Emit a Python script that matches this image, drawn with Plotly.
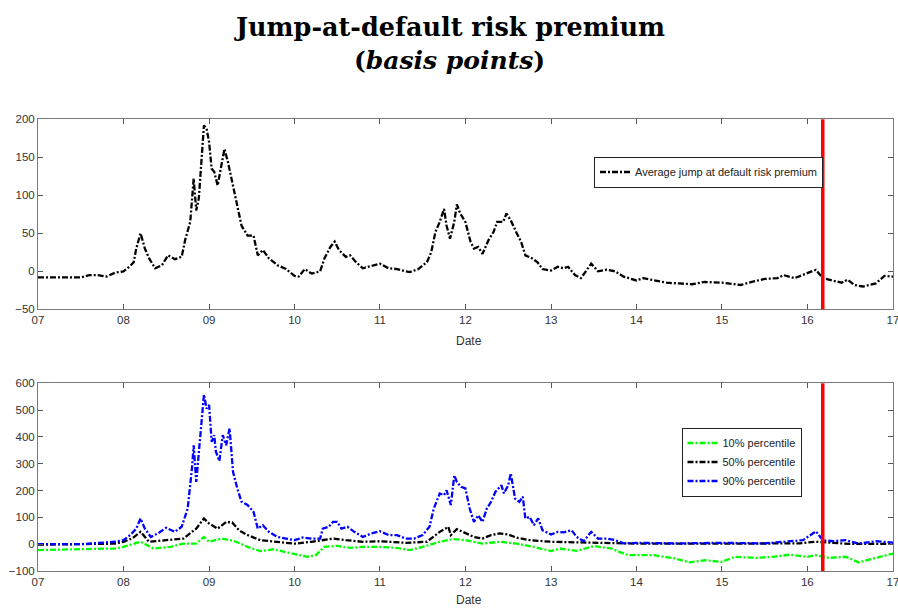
import pandas as pd
import plotly.graph_objects as go

# ---------------- data (decimal years, basis points) ----------------
avg_years = [
    2007.0, 2007.25, 2007.5, 2007.6, 2007.7, 2007.8, 2007.9,
    2008.0, 2008.08, 2008.12, 2008.15, 2008.2, 2008.25, 2008.3, 2008.37, 2008.45, 2008.52,
    2008.6, 2008.68, 2008.72, 2008.78, 2008.82, 2008.85, 2008.88, 2008.92, 2008.94, 2008.97,
    2009.0, 2009.03, 2009.06, 2009.1, 2009.14, 2009.18, 2009.22, 2009.27, 2009.32, 2009.38,
    2009.45, 2009.52, 2009.57, 2009.63, 2009.7, 2009.8, 2009.9,
    2010.0, 2010.05, 2010.12, 2010.2, 2010.3, 2010.35, 2010.42, 2010.47, 2010.52, 2010.6,
    2010.65, 2010.72, 2010.8, 2010.9,
    2011.0, 2011.1, 2011.2, 2011.3, 2011.35, 2011.45, 2011.55, 2011.6, 2011.65, 2011.7,
    2011.75, 2011.78, 2011.82, 2011.87, 2011.9, 2011.94,
    2012.0, 2012.06, 2012.1, 2012.15, 2012.2, 2012.27, 2012.33, 2012.37, 2012.44, 2012.48,
    2012.53, 2012.6, 2012.65, 2012.7, 2012.78, 2012.84, 2012.9,
    2013.0, 2013.08, 2013.15, 2013.2, 2013.28, 2013.35, 2013.47, 2013.55, 2013.65, 2013.75, 2013.85,
    2014.0, 2014.08, 2014.2, 2014.35, 2014.5, 2014.65, 2014.8,
    2015.0, 2015.15, 2015.22, 2015.35, 2015.5, 2015.65, 2015.72, 2015.85,
    2016.0, 2016.1, 2016.18, 2016.3, 2016.4, 2016.47, 2016.55, 2016.65, 2016.8, 2016.9, 2017.0,
]
avg_premium = [
    -8, -8, -8, -5, -5, -7, -2,
    0, 7, 12, 30, 50, 30, 17, 4, 8, 21,
    16, 19, 41, 65, 122, 80, 96, 153, 192, 188,
    170, 135, 131, 113, 139, 161, 144, 117, 91, 60,
    47, 47, 21, 28, 17, 8, 3,
    -6, -7, 3, -3, 0, 17, 32, 39, 28, 19,
    21, 12, 4, 7,
    10, 4, 3, 0, -1, 3, 12, 25, 52, 65,
    82, 60, 43, 65, 88, 76,
    65, 39, 30, 32, 23, 41, 52, 65, 65, 76,
    67, 50, 39, 21, 17, 12, 3,
    1, 6, 4, 6, -5, -9, 10, 0, 2, 0, -7,
    -12, -9, -12, -15, -16, -17, -14,
    -15, -17, -18, -14, -10, -9, -5, -9,
    -3, 2, -9, -12, -15, -11, -18, -20, -16, -6, -7,
]

p90_years = [
    2007.0, 2007.5, 2007.9,
    2008.0, 2008.08, 2008.15, 2008.2, 2008.25, 2008.32, 2008.4, 2008.5, 2008.6, 2008.68,
    2008.75, 2008.8, 2008.82, 2008.85, 2008.88, 2008.92, 2008.94, 2008.97,
    2009.0, 2009.03, 2009.06, 2009.08, 2009.12, 2009.16, 2009.2, 2009.24, 2009.28, 2009.33,
    2009.38, 2009.45, 2009.52, 2009.57, 2009.63, 2009.7, 2009.8, 2009.9,
    2010.0, 2010.1, 2010.2, 2010.3, 2010.33, 2010.4, 2010.45, 2010.5, 2010.55, 2010.62,
    2010.7, 2010.8, 2010.9,
    2011.0, 2011.1, 2011.2, 2011.3, 2011.4, 2011.5, 2011.58, 2011.63, 2011.7, 2011.75,
    2011.78, 2011.83, 2011.87, 2011.9, 2011.95,
    2012.0, 2012.05, 2012.1, 2012.15, 2012.2, 2012.25, 2012.3, 2012.35, 2012.42, 2012.45,
    2012.5, 2012.53, 2012.58, 2012.63, 2012.67, 2012.7, 2012.75, 2012.8, 2012.85, 2012.9,
    2013.0, 2013.08, 2013.15, 2013.24, 2013.3, 2013.38, 2013.47, 2013.55, 2013.65, 2013.75, 2013.85,
    2014.0, 2014.5, 2015.0, 2015.5, 2015.95,
    2016.1, 2016.18, 2016.3, 2016.45, 2016.6, 2016.8, 2017.0,
]
p90_premium = [
    0, 0, 9,
    15, 34, 58, 96, 58, 27, 40, 61, 46, 65,
    133, 282, 369, 232, 332, 494, 558, 506,
    519, 382, 407, 345, 310, 407, 369, 432, 270, 208,
    158, 146, 121, 58, 71, 46, 27, 21,
    15, 25, 21, 21, 58, 65, 83, 83, 58, 65,
    46, 27, 40,
    48, 34, 34, 21, 21, 34, 65, 133, 189, 183,
    201, 146, 257, 232, 214,
    208, 133, 83, 108, 83, 133, 158, 195, 220, 189,
    220, 264, 170, 158, 177, 96, 102, 71, 96, 52,
    36, 46, 44, 52, 27, 11, 46, 21, 21, 15, 3,
    5, 3, 5, 3, 15,
    48, 15, 11, 15, 2, 11, 6,
]

p50_years = [
    2007.0, 2007.9,
    2008.0, 2008.1, 2008.2, 2008.3, 2008.5, 2008.7, 2008.85, 2008.94,
    2009.0, 2009.1, 2009.2, 2009.27, 2009.35, 2009.45, 2009.6, 2009.8,
    2010.0, 2010.2, 2010.45, 2010.6, 2010.8,
    2011.0, 2011.3, 2011.55, 2011.7, 2011.8, 2011.83, 2011.9,
    2012.0, 2012.1, 2012.2, 2012.3, 2012.4, 2012.5, 2012.6, 2012.75,
    2013.0, 2013.5, 2014.0, 2015.0, 2015.9, 2016.1, 2016.5, 2017.0,
]
p50_premium = [
    -2, 2,
    9, 21, 46, 9, 15, 21, 58, 96,
    77, 58, 83, 81, 52, 34, 15, 9,
    2, 9, 21, 15, 9,
    11, 5, 9, 46, 65, 34, 56,
    40, 27, 21, 34, 40, 36, 24, 15,
    9, 5, 2, 2, 3, 9, 1, 1,
]

p10_years = [
    2007.0, 2007.5, 2007.9,
    2008.0, 2008.2, 2008.35, 2008.55, 2008.7, 2008.85, 2008.94,
    2009.0, 2009.15, 2009.3, 2009.45, 2009.6, 2009.75, 2009.9,
    2010.0, 2010.15, 2010.25, 2010.35, 2010.5, 2010.65, 2010.8,
    2011.0, 2011.2, 2011.35, 2011.5, 2011.7, 2011.85,
    2012.0, 2012.2, 2012.4, 2012.6, 2012.8,
    2013.0, 2013.1, 2013.3, 2013.5, 2013.7, 2013.9,
    2014.2, 2014.45, 2014.62, 2014.8,
    2015.0, 2015.15, 2015.4, 2015.6, 2015.8,
    2016.0, 2016.1, 2016.25, 2016.45, 2016.6, 2016.8, 2017.0,
]
p10_premium = [
    -22, -20, -16,
    -10, 9, -16, -10, 2, 2, 27,
    9, 21, 11, -10, -26, -19, -29,
    -35, -47, -41, -10, -6, -14, -10,
    -10, -14, -22, -10, 9, 19,
    15, 2, 9, 2, -10,
    -26, -16, -25, -7, -16, -41,
    -41, -53, -68, -60,
    -66, -47, -51, -47, -39,
    -47, -41, -51, -47, -68, -51, -35,
]

marker_year = 2016.18          # red vertical line
legend_top = ["Average jump at default risk premium"]
legend_bottom = ["10% percentile", "50% percentile", "90% percentile"]
title_line1 = "Jump-at-default risk premium"
title_line2 = "(<i>basis points</i>)"


def to_dates(years):
    out = []
    for y in years:
        yr = int(y)
        start = pd.Timestamp(year=yr, month=1, day=1)
        end = pd.Timestamp(year=yr + 1, month=1, day=1)
        out.append(start + (end - start) * (y - yr))
    return out


DASH = "6px,2px,2px,2px"
W = 2.3

fig = go.Figure()
fig.add_trace(go.Scatter(x=to_dates(avg_years), y=avg_premium, mode="lines",
                         name=legend_top[0], line=dict(color="black", width=W, dash=DASH),
                         xaxis="x", yaxis="y", legend="legend"))
fig.add_trace(go.Scatter(x=to_dates(p10_years), y=p10_premium, mode="lines",
                         name=legend_bottom[0], line=dict(color="#00ff00", width=W, dash=DASH),
                         xaxis="x2", yaxis="y2", legend="legend2"))
fig.add_trace(go.Scatter(x=to_dates(p50_years), y=p50_premium, mode="lines",
                         name=legend_bottom[1], line=dict(color="black", width=W, dash=DASH),
                         xaxis="x2", yaxis="y2", legend="legend2"))
fig.add_trace(go.Scatter(x=to_dates(p90_years), y=p90_premium, mode="lines",
                         name=legend_bottom[2], line=dict(color="#0000ff", width=W, dash=DASH),
                         xaxis="x2", yaxis="y2", legend="legend2"))

mark = to_dates([marker_year])[0]
for xr, yr in (("x", "y domain"), ("x2", "y2 domain")):
    fig.add_shape(type="line", xref=xr, yref=yr, x0=mark, x1=mark, y0=0, y1=1,
                  line=dict(color="#ff0000", width=3.5), layer="above")

H = 608.0
PW = 898.0 - 38 - 5
axis_common = dict(showline=True, linecolor="#7a7a7a", linewidth=1, mirror="ticks",
                   ticks="inside", ticklen=5, tickcolor="#555555", showgrid=False,
                   zeroline=False, automargin=False, ticklabeloverflow="allow",
                   tickfont=dict(family="Liberation Sans", size=11.5, color="#333333"))
xcommon = dict(axis_common, type="date", range=["2007-01-01", "2017-01-01"],
               dtick="M12", tick0="2007-01-01", tickformat="%y")

fig.update_layout(
    width=898, height=608,
    margin=dict(l=38, r=5, t=0, b=0, autoexpand=False),
    paper_bgcolor="white", plot_bgcolor="white",
    showlegend=True,
    xaxis=dict(xcommon, anchor="y"),
    yaxis=dict(axis_common, domain=[1 - 309.3 / H, 1 - 119.3 / H], range=[-50, 200],
               dtick=50, anchor="x"),
    xaxis2=dict(xcommon, anchor="y2"),
    yaxis2=dict(axis_common, domain=[1 - 571.0 / H, 1 - 383.3 / H], range=[-100, 600],
                dtick=100, anchor="x2"),
    legend=dict(x=(594 - 38) / PW, y=1 - 156.5 / H, xanchor="left", yanchor="top",
                bgcolor="white", bordercolor="#222222", borderwidth=1,
                font=dict(family="Liberation Sans", size=11, color="#222222"),
                itemwidth=30, tracegroupgap=0),
    legend2=dict(x=(681.5 - 38) / PW, y=1 - 427.5 / H, xanchor="left", yanchor="top",
                 bgcolor="white", bordercolor="#222222", borderwidth=1,
                 font=dict(family="Liberation Sans", size=11, color="#222222"),
                 itemwidth=30, tracegroupgap=0),
    annotations=[
        dict(text="<b>" + title_line1 + "</b>", x=(449 - 38) / PW, y=1 - 27 / H,
             xref="paper", yref="paper", xanchor="center", yanchor="middle", showarrow=False,
             font=dict(family="DejaVu Serif", size=25.5, color="black")),
        dict(text="<b>" + title_line2 + "</b>", x=(449 - 38) / PW, y=1 - 60 / H,
             xref="paper", yref="paper", xanchor="center", yanchor="middle", showarrow=False,
             font=dict(family="DejaVu Serif", size=25, color="black")),
        dict(text="Date", x=(469 - 38) / PW, y=1 - 341 / H, xref="paper", yref="paper",
             xanchor="center", yanchor="middle", showarrow=False,
             font=dict(family="Liberation Sans", size=12, color="#333333")),
        dict(text="Date", x=(469 - 38) / PW, y=1 - 600 / H, xref="paper", yref="paper",
             xanchor="center", yanchor="middle", showarrow=False,
             font=dict(family="Liberation Sans", size=12, color="#333333")),
    ],
)

fig.write_html("out.html", config={"displayModeBar": False},
               post_script="document.body.style.margin='0px';document.body.style.padding='0px';")
